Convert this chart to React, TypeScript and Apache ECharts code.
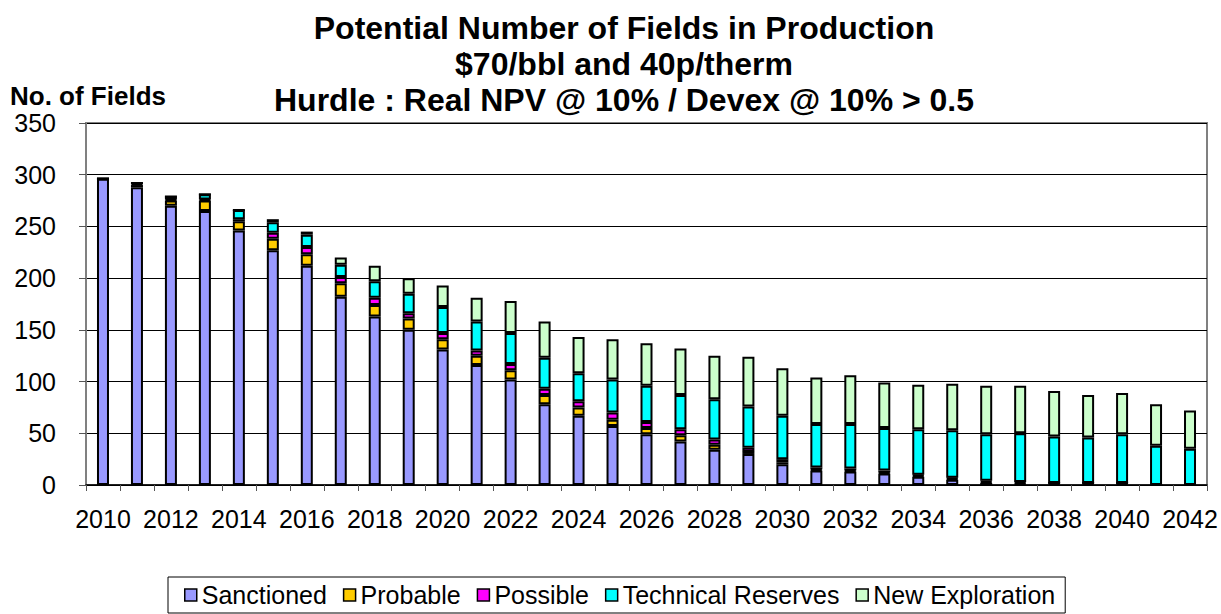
import React, { useEffect, useRef } from "react";
import * as echarts from "echarts";

const years = [
  "2010", "2011", "2012", "2013", "2014", "2015", "2016", "2017", "2018", "2019", "2020",
  "2021", "2022", "2023", "2024", "2025", "2026", "2027", "2028", "2029", "2030", "2031",
  "2032", "2033", "2034", "2035", "2036", "2037", "2038", "2039", "2040", "2041", "2042",
];
const sanctioned = [296, 288, 270, 265, 246, 227, 212, 182, 163, 150, 131, 116, 102, 78, 67, 57, 49, 42, 34, 30, 20, 14, 13, 11, 8, 5, 2, 1, 1, 1, 1, 0, 0];
const probable = [0, 2, 5, 10, 9, 11, 11, 13, 11, 11, 10, 9, 9, 9, 8, 6, 6, 6, 5, 2, 2, 1, 1, 1, 1, 1, 1, 1, 1, 1, 1, 0, 0];
const possible = [0, 1, 1, 1, 2, 6, 7, 6, 7, 5, 6, 5, 6, 6, 6, 7, 6, 6, 5, 4, 3, 2, 2, 2, 1, 1, 1, 1, 0, 0, 0, 0, 0];
const technical = [0, 1, 3, 5, 9, 10, 12, 12, 16, 19, 25, 28, 30, 30, 27, 32, 35, 33, 39, 40, 42, 42, 43, 41, 44, 46, 45, 47, 45, 44, 47, 38, 35];
const newExploration = [0, 0, 0, 0, 0, 3, 3, 7, 15, 15, 21, 23, 31, 35, 35, 39, 41, 45, 42, 48, 46, 45, 47, 44, 43, 45, 47, 46, 44, 41, 40, 40, 37];

const seriesNames = ["Sanctioned", "Probable", "Possible", "Technical Reserves", "New Exploration"];
const seriesColors = ["#9999FF", "#FFCC00", "#FF00FF", "#00FFFF", "#CCFFCC"];
const seriesData = [sanctioned, probable, possible, technical, newExploration];

const titleLines = [
  "Potential Number of Fields in Production",
  "$70/bbl and 40p/therm",
  "Hurdle : Real NPV @ 10% / Devex @ 10% > 0.5",
];
const yAxisTitle = "No. of Fields";

const FONT = "'Liberation Sans', Arial, sans-serif";

export default function App() {
  const ref = useRef<HTMLDivElement>(null);
  useEffect(() => {
    if (!ref.current) return;
    const chart = echarts.init(ref.current, undefined, { renderer: "svg" });
    const option = {
      animation: false,
      backgroundColor: "#ffffff",
      textStyle: { fontFamily: FONT },
      graphic: [
        ...titleLines.map((t, i) => ({
          type: "text",
          x: 624,
          y: 28 + i * 36,
          style: {
            text: t,
            font: `bold 32px ${FONT}`,
            lineHeight: 32,
            fill: "#000",
            align: "center",
            verticalAlign: "middle",
          },
        })),
        {
          type: "text",
          x: 10,
          y: 96,
          style: {
            text: yAxisTitle,
            font: `bold 26px ${FONT}`,
            lineHeight: 26,
            fill: "#000",
            align: "left",
            verticalAlign: "middle",
          },
        },
      ],
      grid: {
        left: 86,
        right: 14,
        top: 123,
        bottom: 129,
        show: true,
        borderColor: "#808080",
        borderWidth: 2,
        containLabel: false,
      },
      legend: {
        left: 168,
        top: 577,
        data: seriesNames,
        icon: "rect",
        itemWidth: 12,
        itemHeight: 12,
        itemGap: 16,
        borderColor: "#000",
        borderWidth: 1,
        padding: [4, 10, 4, 16],
        itemStyle: { borderColor: "#000", borderWidth: 1.5 },
        textStyle: { fontSize: 25, color: "#000", fontFamily: FONT, lineHeight: 28 },
      },
      xAxis: {
        type: "category",
        data: years,
        boundaryGap: true,
        axisLine: { show: true, lineStyle: { color: "#000", width: 1.5 } },
        axisTick: { show: true, interval: 0, length: 6, lineStyle: { color: "#555" } },
        axisLabel: { interval: 1, fontSize: 25, color: "#000", margin: 21, fontFamily: FONT },
        splitLine: { show: false },
      },
      yAxis: {
        type: "value",
        min: 0,
        max: 350,
        interval: 50,
        axisLine: { show: true, lineStyle: { color: "#808080", width: 2 } },
        axisTick: { show: true, length: 7, lineStyle: { color: "#555" } },
        axisLabel: { fontSize: 25, lineHeight: 24, color: "#000", margin: 30, fontFamily: FONT },
        splitLine: { show: true, lineStyle: { color: "#000", width: 1 } },
      },
      series: seriesNames.map((name, i) => ({
        name,
        type: "bar",
        stack: "total",
        data: seriesData[i],
        barWidth: 12,
        itemStyle: { color: seriesColors[i], borderColor: "#000", borderWidth: 2 },
        emphasis: { disabled: true },
      })),
    };
    chart.setOption(option as any);
    return () => chart.dispose();
  }, []);
  return (
    <div
      ref={ref}
      style={{ position: "fixed", left: 0, top: 0, width: 1221, height: 614, background: "#fff" }}
    />
  );
}
